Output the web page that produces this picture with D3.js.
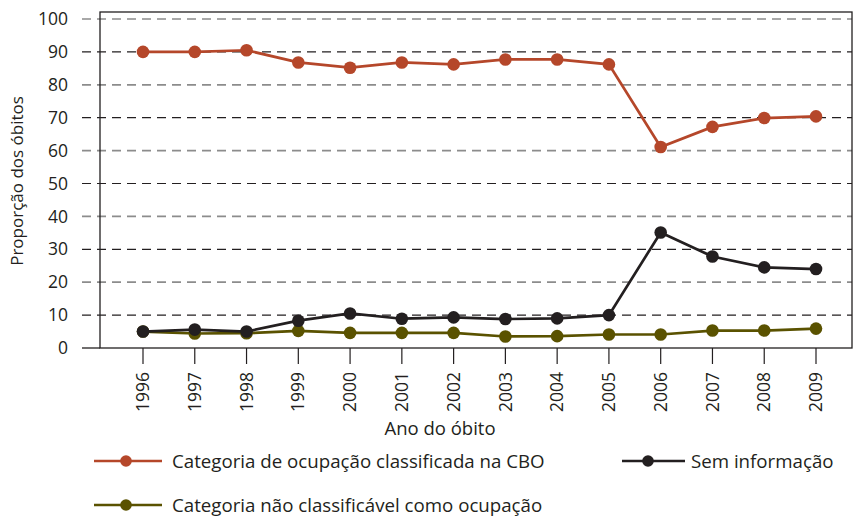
<!DOCTYPE html>
<html>
<head>
<meta charset="utf-8">
<script src="https://cdn.jsdelivr.net/npm/d3@7"></script>
<style>
  body { margin: 0; background: #fff; }
  text { font-family: "Open Sans", "Noto Sans", sans-serif; fill: #231f20; }
</style>
</head>
<body>
<div id="chart"></div>
<script>
const years = ["1996","1997","1998","1999","2000","2001","2002","2003","2004","2005","2006","2007","2008","2009"];
const classificada = [90, 90, 90.5, 86.8, 85.2, 86.8, 86.2, 87.7, 87.7, 86.2, 61.1, 67.2, 69.9, 70.4];
const semInfo = [5, 5.6, 5, 8.3, 10.5, 8.9, 9.3, 8.8, 9, 10, 35.1, 27.8, 24.5, 24];
const naoClass = [5, 4.4, 4.5, 5.2, 4.6, 4.6, 4.6, 3.5, 3.6, 4.1, 4.1, 5.3, 5.3, 5.9];
const yTicks = [0, 10, 20, 30, 40, 50, 60, 70, 80, 90, 100];

const series = [
  { name: "Categoria de ocupação classificada na CBO", values: classificada, color: "#b5472a" },
  { name: "Sem informação", values: semInfo, color: "#231f20" },
  { name: "Categoria não classificável como ocupação", values: naoClass, color: "#5a5200" }
];

const width = 860, height = 516;
const plotL = 100, plotR = 852, plotT = 12, plotB = 348;

const svg = d3.select("#chart").append("svg")
  .attr("width", width)
  .attr("height", height);

const x = d3.scalePoint().domain(years).range([143, 816]);
const y = d3.scaleLinear().domain([0, 100]).range([plotB, 19]);

// gridlines, alternating dark / grey
svg.append("g")
  .selectAll("line")
  .data(yTicks.filter(d => d > 0))
  .enter().append("line")
    .attr("x1", 82).attr("x2", plotR)
    .attr("y1", d => y(d)).attr("y2", d => y(d))
    .attr("stroke", d => (d / 10) % 2 ? "#231f20" : "#8c8c8c")
    .attr("stroke-width", d => (d / 10) % 2 ? 1.2 : 1.7)
    .attr("stroke-dasharray", "9,6");

// frame
svg.append("rect")
  .attr("x", plotL).attr("y", plotT)
  .attr("width", plotR - plotL).attr("height", plotB - plotT)
  .attr("fill", "none")
  .attr("stroke", "#231f20")
  .attr("stroke-width", 1.3);

// y labels
svg.append("g")
  .selectAll("text")
  .data(yTicks)
  .enter().append("text")
    .attr("x", 68)
    .attr("y", d => y(d))
    .attr("dy", "0.35em")
    .attr("text-anchor", "end")
    .style("font-size", "17.5px")
    .text(d => d);

svg.append("line")
  .attr("x1", 82).attr("x2", plotL)
  .attr("y1", plotB).attr("y2", plotB)
  .attr("stroke", "#231f20").attr("stroke-width", 1.3);

// x ticks + labels
let xt = svg.append("g").selectAll("g")
  .data(years)
  .enter().append("g")
    .attr("transform", d => "translate(" + x(d) + ",0)");

xt.append("line")
  .attr("y1", plotB).attr("y2", 364)
  .attr("stroke", "#231f20").attr("stroke-width", 1.2);

xt.append("text")
  .attr("transform", "translate(0,372) rotate(-90)")
  .attr("dy", "0.35em")
  .attr("text-anchor", "end")
  .style("font-size", "17.5px")
  .text(d => d);

// axis titles
svg.append("text")
  .attr("transform", "translate(17,181) rotate(-90)")
  .attr("dy", "0.35em")
  .attr("text-anchor", "middle")
  .style("font-size", "17px")
  .text("Proporção dos óbitos");

svg.append("text")
  .attr("x", 440).attr("y", 429)
  .attr("dy", "0.35em")
  .attr("text-anchor", "middle")
  .style("font-size", "18.5px")
  .text("Ano do óbito");

// lines and dots
const line = d3.line()
  .x((d, i) => x(years[i]))
  .y(d => y(d));

// draw olive first, then black, then red on top
[2, 1, 0].forEach(k => {
  const s = series[k];
  svg.append("path")
    .datum(s.values)
    .attr("d", line)
    .attr("fill", "none")
    .attr("stroke", s.color)
    .attr("stroke-width", 2.7);
  svg.append("g")
    .selectAll("circle")
    .data(s.values)
    .enter().append("circle")
      .attr("cx", (d, i) => x(years[i]))
      .attr("cy", d => y(d))
      .attr("r", 6.3)
      .attr("fill", s.color);
});

// legend
const legendPos = [
  { lx: 94, ly: 461 },
  { lx: 622, ly: 461 },
  { lx: 94, ly: 505 }
];

series.forEach((s, i) => {
  const p = legendPos[i];
  let g = svg.append("g").attr("transform", "translate(" + p.lx + "," + p.ly + ")");
  g.append("line")
    .attr("x1", 0).attr("x2", i === 1 ? 63 : 68)
    .attr("y1", 0).attr("y2", 0)
    .attr("stroke", s.color).attr("stroke-width", 2.7);
  g.append("circle")
    .attr("cx", i === 1 ? 26 : 32).attr("cy", 0).attr("r", 5.8)
    .attr("fill", s.color);
  g.append("text")
    .attr("x", i === 1 ? 69 : 78).attr("y", 0)
    .attr("dy", "0.35em")
    .style("font-size", "18.7px")
    .text(s.name);
});
</script>
</body>
</html>
